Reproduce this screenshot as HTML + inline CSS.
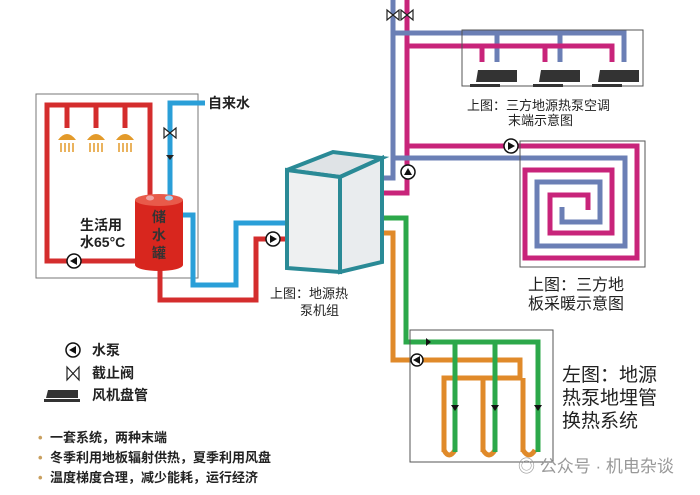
<!DOCTYPE html>
<html><head><meta charset="utf-8"><style>
body{margin:0;background:#fff}
svg{display:block}
text{font-family:"Liberation Sans","Noto Sans CJK SC",sans-serif}
</style></head><body>
<svg width="700" height="495" viewBox="0 0 700 495" xmlns="http://www.w3.org/2000/svg">
<rect width="700" height="495" fill="#fff"/>
<rect x="36" y="94" width="162" height="184" fill="none" stroke="#777" stroke-width="1"/>
<g fill="none" stroke-width="5" stroke-linejoin="miter">
<path d="M150,198 V105 H47 V261 H137" stroke="#d42d2d"/>
<path d="M67,105 V128 M96,105 V128 M125,105 V128" stroke="#d42d2d"/>
<path d="M205,103 H170 V196" stroke="#2a9fd8"/>
<path d="M183,215 H193 V285 H236 V223 H288" stroke="#2a9fd8"/>
<path d="M160,268 V300 H256 V239 H288" stroke="#d42d2d"/>
</g>
<g fill="#e39a2a">
<path d="M58,140 Q67,128 76,140 Z"/><path d="M87,140 Q96,128 105,140 Z"/><path d="M116,140 Q125,128 134,140 Z"/>
</g>
<g stroke="#e39a2a" stroke-width="1.5">
<path d="M61,143 V152 M65,143 V152 M69,143 V152 M73,143 V152"/>
<path d="M90,143 V152 M94,143 V152 M98,143 V152 M102,143 V152"/>
<path d="M119,143 V152 M123,143 V152 M127,143 V152 M131,143 V152"/>
</g>
<path d="M164,128 L176,138 V128 L164,138 Z" fill="#fff" stroke="#222" stroke-width="1.2"/>
<path d="M166,155 H174 L170,160 Z" fill="#222"/>
<path d="M135,200 V265 A24,6 0 0 0 183,265 V200 Z" fill="#d8261e"/>
<ellipse cx="159" cy="200" rx="24" ry="6" fill="#e85a4a"/>
<ellipse cx="150" cy="198" rx="4" ry="2.5" fill="#f0a0a0"/><ellipse cx="169" cy="198" rx="4" ry="2.5" fill="#a0d0f0"/>
<text x="159" y="222" font-size="14" font-weight="bold" text-anchor="middle" fill="#333">储</text>
<text x="159" y="240" font-size="14" font-weight="bold" text-anchor="middle" fill="#333">水</text>
<text x="159" y="258" font-size="14" font-weight="bold" text-anchor="middle" fill="#333">罐</text>
<text x="80" y="230" font-size="14" font-weight="bold" fill="#222">生活用</text>
<text x="80" y="247" font-size="14" font-weight="bold" fill="#222">水65°C</text>
<text x="208" y="108" font-size="14" font-weight="bold" fill="#222">自来水</text>
<circle cx="74" cy="261" r="7" fill="#fff" stroke="#111" stroke-width="1.5"/><path d="M70,261 L77,257 V265 Z" fill="#111"/>
<circle cx="273" cy="239" r="7" fill="#fff" stroke="#111" stroke-width="1.5"/><path d="M277,239 L270,235 V243 Z" fill="#111"/>
<g fill="none" stroke-width="5">
<path d="M393,0 V178 H382" stroke="#6b7fb5"/>
<path d="M407,0 V193 H382" stroke="#c8247a"/>
<path d="M393,33 H624 V62 M497,33 V62 M560,33 V62" stroke="#6b7fb5"/>
<path d="M407,46 H612 V62 M482,62 V46 M545,62 V46" stroke="#c8247a"/>
<path d="M407,146 H637 V258 H525 V170 H612 V233 H550 V195 H588 V210" stroke="#c8247a"/>
<path d="M393,158 H625 V246 H537 V182 H600 V222 H562 V207" stroke="#6b7fb5"/>
<path d="M382,233 H393 V360 H520 V378 H444 V452 M483,378 V452 M523,378 V452" stroke="#e08a2a"/>
<path d="M444,450 Q449,460 455,450 M483,450 Q489,460 495,450 M523,450 Q529,460 535,450" stroke="#e08a2a"/>
<path d="M382,218 H406 V342 H538 V452 M455,342 V452 M495,342 V452" stroke="#2ca84a"/>
</g>
<rect x="462" y="30" width="181" height="56" fill="none" stroke="#555"/>
<rect x="520" y="141" width="125" height="126" fill="none" stroke="#555"/>
<rect x="410" y="330" width="143" height="132" fill="none" stroke="#555"/>
<path d="M387,10 L399,20 V10 L387,20 Z M401,10 L413,20 V10 L401,20 Z" fill="#fff" stroke="#222" stroke-width="1.2"/>
<g fill="#333">
<path d="M478,70 H517 V82 H476 Z"/><path d="M470,84 H500 V87 H470 Z"/>
<path d="M541,70 H580 V82 H539 Z"/><path d="M533,84 H563 V87 H533 Z"/>
<path d="M600,70 H639 V82 H598 Z"/><path d="M592,84 H622 V87 H592 Z"/>
</g>
<circle cx="511" cy="146" r="7" fill="#fff" stroke="#111" stroke-width="1.5"/><path d="M515,146 L508,142 V150 Z" fill="#111"/>
<circle cx="408" cy="172" r="7" fill="#fff" stroke="#111" stroke-width="1.5"/><path d="M408,168 L404,175 H412 Z" fill="#111"/>
<circle cx="417" cy="360" r="6" fill="#fff" stroke="#111" stroke-width="1.5"/><path d="M413,360 L420,356 V364 Z" fill="#111"/>
<path d="M426,338 L431,342 L426,346 Z" fill="#111"/>
<path d="M451,405 H459 L455,411 Z M491,405 H499 L495,411 Z M534,405 H542 L538,411 Z" fill="#111"/>
<path d="M287,170 L333,152 L382,158 L340,177 Z" fill="#dfe3e6" stroke="#2a8a96" stroke-width="4"/>
<path d="M340,177 L382,158 V262 L340,272 Z" fill="#e9ecee" stroke="#2a8a96" stroke-width="4"/>
<path d="M287,170 L340,177 V272 L287,268 Z" fill="#eef0f1" stroke="#2a8a96" stroke-width="4"/>
<text x="270" y="298" font-size="13" fill="#222">上图：地源热</text>
<text x="300" y="315" font-size="13" fill="#222">泵机组</text>
<text x="467" y="110" font-size="13" fill="#222">上图：三方地源热泵空调</text>
<text x="508" y="125" font-size="13" fill="#222">末端示意图</text>
<text x="528" y="290" font-size="16" fill="#222">上图：三方地</text>
<text x="528" y="309" font-size="16" fill="#222">板采暖示意图</text>
<text x="562" y="381" font-size="19" fill="#222">左图：地源</text>
<text x="562" y="404" font-size="19" fill="#222">热泵地埋管</text>
<text x="562" y="427" font-size="19" fill="#222">换热系统</text>
<circle cx="73" cy="350" r="7" fill="#fff" stroke="#111" stroke-width="1.5"/><path d="M69,350 L76,346 V354 Z" fill="#111"/>
<text x="92" y="355" font-size="14" font-weight="bold" fill="#222">水泵</text>
<path d="M67,367 L79,380 V367 L67,380 Z" fill="#fff" stroke="#222" stroke-width="1.2"/>
<text x="92" y="378" font-size="14" font-weight="bold" fill="#222">截止阀</text>
<path d="M48,390 H78 V398 H46 Z" fill="#333"/><path d="M44,399 H80 V402 H44 Z" fill="#333"/>
<text x="92" y="400" font-size="14" font-weight="bold" fill="#222">风机盘管</text>
<g font-size="13" font-weight="bold" fill="#222">
<text x="38" y="442" fill="#c9a060">•</text><text x="50" y="442">一套系统，两种末端</text>
<text x="38" y="462" fill="#c9a060">•</text><text x="50" y="462">冬季利用地板辐射供热，夏季利用风盘</text>
<text x="38" y="482" fill="#c9a060">•</text><text x="50" y="482">温度梯度合理，减少能耗，运行经济</text>
</g>
<text x="518" y="472" font-size="17" fill="#999">◎ 公众号 · 机电杂谈</text>
</svg>
</body></html>
